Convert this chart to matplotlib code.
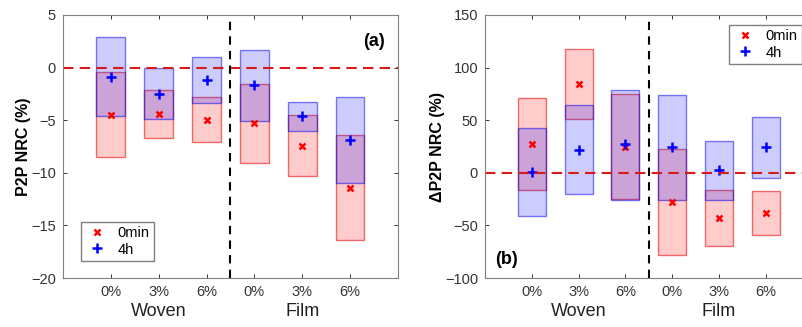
import matplotlib.pyplot as plt
from matplotlib.patches import Rectangle

plt.rcParams['font.family'] = ['Liberation Sans', 'DejaVu Sans']

ticks = ['0%', '3%', '6%', '0%', '3%', '6%']
groups = ['Woven', 'Film']

# (a) P2P NRC (%): box bottom/top and marker for each condition
a_red_lo = [-8.5, -6.7, -7.05, -9.1, -10.35, -16.4]
a_red_hi = [-0.45, -2.1, -2.75, -1.6, -4.5, -6.4]
a_red_mk = [-4.5, -4.45, -4.95, -5.3, -7.45, -11.45]
a_blue_lo = [-4.6, -4.9, -3.4, -5.1, -6.0, -11.0]
a_blue_hi = [2.9, 0.0, 1.0, 1.7, -3.25, -2.8]
a_blue_mk = [-0.85, -2.5, -1.2, -1.7, -4.6, -6.9]

# (b) dP2P NRC (%)
b_red_lo = [-16, 51, -24.5, -78, -70, -59]
b_red_hi = [71, 118, 75, 22.5, -16, -17]
b_red_mk = [27.5, 84.5, 25, -28, -43, -38]
b_blue_lo = [-41.5, -20, -25.5, -25.5, -26, -5]
b_blue_hi = [43, 64, 78.5, 74, 30.5, 53]
b_blue_mk = [0.5, 22, 27, 24.5, 3, 24.5]

W, H = 803, 327
fig = plt.figure(figsize=(W / 100, H / 100), dpi=100)
ax1 = fig.add_axes([63 / W, 49 / H, 335 / W, 263 / H])
ax2 = fig.add_axes([485 / W, 49 / H, 327.6 / W, 263 / H])

x = list(range(1, 7))
bw = 0.6


def draw(ax, rlo, rhi, rmk, blo, bhi, bmk):
    for i in range(6):
        ax.add_patch(Rectangle((x[i] - bw / 2, rlo[i]), bw, rhi[i] - rlo[i],
                               facecolor=(1, 0, 0, 0.2), edgecolor=(0.9, 0, 0, 0.55), lw=1))
        ax.add_patch(Rectangle((x[i] - bw / 2, blo[i]), bw, bhi[i] - blo[i],
                               facecolor=(0, 0, 1, 0.2), edgecolor=(0, 0, 0.9, 0.5), lw=1))
    ax.plot(x, rmk, 'x', color='red', ms=5, mew=1.8, ls='none', label='0min')
    ax.plot(x, bmk, '+', color='blue', ms=7, mew=1.8, ls='none', label='4h')
    ax.axhline(0, color=(0.85, 0.1, 0.1), ls='--', lw=1.5, dashes=(5, 3))
    ax.axvline(3.5, color='black', ls='--', lw=1.5, dashes=(4, 3))
    ax.set_xlim(0, 7)
    ax.set_xticks(x)
    ax.set_xticklabels(ticks)
    ax.tick_params(direction='in', top=True, right=True, length=3, width=0.7,
                   colors='#333333', labelsize=10.5, pad=5)
    for s in ax.spines.values():
        s.set_color('#808080')
        s.set_linewidth(0.8)
    for gx, g in zip([2, 5], groups):
        ax.text(gx, -0.095, g, transform=ax.get_xaxis_transform(), ha='center',
                va='top', fontsize=13, color='#222222')


leg_kw = dict(fontsize=10.5, fancybox=False, edgecolor='#808080', framealpha=1,
              handletextpad=0.6, borderpad=0.3, labelspacing=0.15,
              handlelength=1.6, borderaxespad=0)

draw(ax1, a_red_lo, a_red_hi, a_red_mk, a_blue_lo, a_blue_hi, a_blue_mk)
ax1.set_ylim(-20, 5)
ax1.set_yticks(range(-20, 6, 5))
ax1.set_ylabel('P2P NRC (%)', fontsize=11.5, fontweight='bold', labelpad=0)
ax1.text(0.96, 0.9, '(a)', transform=ax1.transAxes, ha='right', va='center',
         fontsize=13, fontweight='bold')
ax1.legend(loc='lower left', bbox_to_anchor=(0.053, 0.065), **leg_kw)

draw(ax2, b_red_lo, b_red_hi, b_red_mk, b_blue_lo, b_blue_hi, b_blue_mk)
ax2.set_ylim(-100, 150)
ax2.set_yticks(range(-100, 151, 50))
ax2.set_ylabel('ΔP2P NRC (%)', fontsize=11.5, fontweight='bold', labelpad=0)
ax2.text(0.03, 0.07, '(b)', transform=ax2.transAxes, ha='left', va='center',
         fontsize=13, fontweight='bold')
ax2.legend(loc='upper left', bbox_to_anchor=(0.745, 0.962), **leg_kw)

fig.savefig('out.png', dpi=100)
